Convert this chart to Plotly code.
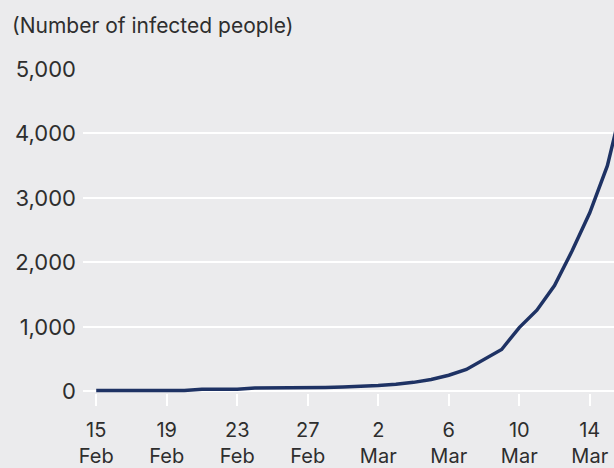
import plotly.graph_objects as go
import pandas as pd

dates = pd.date_range("2020-02-15", "2020-03-16", freq="D").strftime("%Y-%m-%d").tolist()
cases = [15, 15, 15, 15, 15, 15, 35, 35, 35, 53, 53, 57, 60, 62, 68, 75,
         90, 110, 140, 185, 250, 340, 500, 650, 990, 1260, 1640, 2180, 2770, 3500, 4630]

tick_dates = ["2020-02-15", "2020-02-19", "2020-02-23", "2020-02-27",
              "2020-03-02", "2020-03-06", "2020-03-10", "2020-03-14"]
tick_labels = ["15<br>Feb", "19<br>Feb", "23<br>Feb", "27<br>Feb",
               "2<br>Mar", "6<br>Mar", "10<br>Mar", "14<br>Mar"]
y_ticks = [0, 1000, 2000, 3000, 4000, 5000]
y_labels = ["0", "1,000", "2,000", "3,000", "4,000", "5,000"]

BG = "#ebebed"
TXT = "#2e2e2e"
FONT = "Inter"

fig = go.Figure()
fig.add_trace(go.Scatter(
    x=dates, y=cases, mode="lines",
    line=dict(color="#1e3264", width=3.5),
    hoverinfo="skip", showlegend=False,
))

fig.update_layout(
    width=614, height=468,
    margin=dict(l=83, r=0, t=69, b=73),
    paper_bgcolor=BG, plot_bgcolor=BG,
    font=dict(family=FONT, size=20, color=TXT),
    xaxis=dict(
        range=["2020-02-14 06:00", "2020-03-15 09:00"],
        tickmode="array", tickvals=tick_dates, ticktext=tick_labels,
        ticks="outside", ticklen=12, tickwidth=2, tickcolor="white",
        showgrid=False, zeroline=False, showline=False,
        tickfont=dict(family=FONT, size=20, color=TXT),
        ticklabelstandoff=7,
    ),
    yaxis=dict(
        range=[-25, 5000],
        tickmode="array", tickvals=y_ticks, ticktext=y_labels,
        showgrid=True, gridcolor="white", gridwidth=2,
        zeroline=False, showline=False, ticks="",
        tickfont=dict(family=FONT, size=22, color=TXT),
        ticklabelstandoff=6,
    ),
    annotations=[dict(
        text="(Number of infected people)", xref="paper", yref="paper",
        x=-83/531, y=1, yshift=44, xshift=10, xanchor="left", yanchor="middle",
        showarrow=False, font=dict(family=FONT, size=21, color=TXT),
    )],
)

fig.write_html("out.html")
